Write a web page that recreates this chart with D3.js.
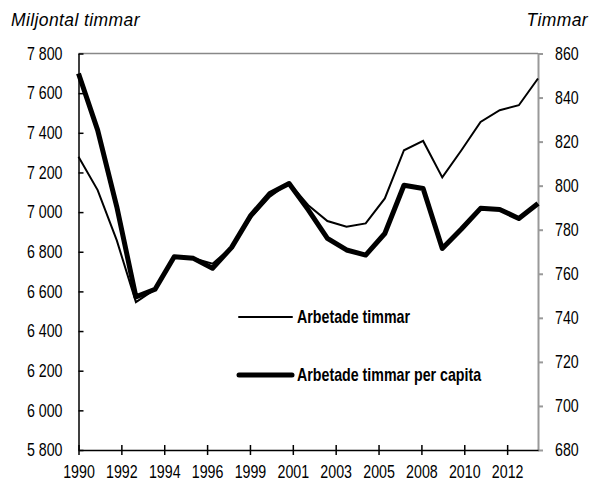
<!DOCTYPE html>
<html>
<head>
<meta charset="utf-8">
<script src="https://cdn.jsdelivr.net/npm/d3@7"></script>
<style>
  body { margin: 0; background: #fff; }
  .tick text { font-family: "Liberation Sans", Arial, sans-serif; font-size: 18px; fill: #000; }
  .unit { font-family: "Liberation Sans", Arial, sans-serif; font-style: italic; font-size: 17.5px; letter-spacing: 0.4px; }
  .legend text { font-family: "Liberation Sans", Arial, sans-serif; font-weight: bold; font-size: 18px; }
</style>
</head>
<body>
<div id="chart"></div>
<script>
// yearly observations
const years = d3.range(1990, 2015);
// Arbetade timmar, miljontal (left axis)
const hoursTotal = [7279, 7111, 6857, 6546, 6610, 6775, 6767, 6740, 6823, 6972,
                    7078, 7148, 7035, 6955, 6926, 6943, 7069, 7312, 7359, 7175,
                    7312, 7455, 7514, 7539, 7674];
// Arbetade timmar per capita (right axis)
const hoursPerCapita = [850.9, 825.2, 790.4, 749.5, 753, 767.7, 767, 762.5, 772, 786.5,
                        796.5, 801, 789, 776.1, 770.8, 768.5, 778.3, 800.2, 798.7, 771.5,
                        780.3, 789.7, 789.2, 785.1, 791.9];
const xTickLabels = ["1990", "1992", "1994", "1996", "1999", "2001", "2003", "2005", "2008", "2010", "2012"];
const leftTicks = d3.range(5800, 7801, 200);
const rightTicks = d3.range(680, 861, 20);

const W = 591, H = 481;
const margin = {top: 53.5, left: 78.5, right: 53, bottom: 31};
const squeeze = 0.79; // condensed look for the axis and legend font

const svg = d3.select("#chart").append("svg")
    .attr("width", W)
    .attr("height", H);

const x = d3.scaleLinear().domain([1990, 2014]).range([margin.left, W - margin.right]);
const yL = d3.scaleLinear().domain([5800, 7800]).range([H - margin.bottom, margin.top]);
const yR = d3.scaleLinear().domain([680, 860]).range([H - margin.bottom, margin.top]);

const fmt = d => d3.format(",")(d).replace(",", " ");

function condense(sel) {
  sel.each(function() {
    const t = d3.select(this);
    const tx = +t.attr("x") || 0;
    t.attr("x", tx / squeeze).attr("transform", `scale(${squeeze},1)`);
  });
}

// top border
svg.append("line")
    .attr("x1", margin.left).attr("x2", W - margin.right)
    .attr("y1", margin.top).attr("y2", margin.top)
    .attr("stroke", "#888").attr("stroke-width", 1.5);

// left axis, ticks point inwards
const gL = svg.append("g")
    .attr("transform", `translate(${margin.left},0)`)
    .call(d3.axisLeft(yL).tickValues(leftTicks).tickFormat(fmt).tickSize(-5).tickSizeOuter(0).tickPadding(16));
gL.selectAll("path, line").attr("stroke", "#000").attr("stroke-width", 1.5);
gL.selectAll("text").call(condense);

// right axis (gray)
const gR = svg.append("g")
    .attr("transform", `translate(${W - margin.right},0)`)
    .call(d3.axisRight(yR).tickValues(rightTicks).tickSize(5).tickSizeOuter(0).tickPadding(12));
gR.selectAll("path, line").attr("stroke", "#999").attr("stroke-width", 2);
gR.selectAll("text").call(condense);

// bottom axis, ticks cross the line
const tickStep = 24 / 10.72;
const gB = svg.append("g")
    .attr("transform", `translate(0,${H - margin.bottom})`)
    .call(d3.axisBottom(x)
        .tickValues(xTickLabels.map((d, i) => 1990 + i * tickStep))
        .tickFormat((d, i) => xTickLabels[i])
        .tickSize(5).tickSizeOuter(0).tickPadding(10));
gB.selectAll("line").attr("y1", -5);
gB.selectAll("path, line").attr("stroke", "#000").attr("stroke-width", 1.5);
gB.selectAll("text").call(condense);

// unit labels
svg.append("text").attr("class", "unit").attr("x", 11).attr("y", 26).text("Miljontal timmar");
svg.append("text").attr("class", "unit").attr("x", 588).attr("y", 26)
    .attr("text-anchor", "end").text("Timmar");

// lines
const lineR = d3.line().x((d, i) => x(years[i])).y(d => yR(d));
const lineL = d3.line().x((d, i) => x(years[i])).y(d => yL(d));

svg.append("path")
    .datum(hoursPerCapita)
    .attr("d", lineR)
    .attr("fill", "none").attr("stroke", "#000").attr("stroke-width", 5)
    .attr("stroke-linejoin", "round");

svg.append("path")
    .datum(hoursTotal)
    .attr("d", lineL)
    .attr("fill", "none").attr("stroke", "#000").attr("stroke-width", 2);

// legend
const legendItems = [
  {label: "Arbetade timmar", width: 2, y: 317},
  {label: "Arbetade timmar per capita", width: 5, y: 375}
];
const lg = svg.append("g").attr("class", "legend");
legendItems.forEach(d => {
  lg.append("line")
    .attr("x1", 239).attr("x2", 292).attr("y1", d.y).attr("y2", d.y)
    .attr("stroke", "#000").attr("stroke-width", d.width).attr("stroke-linecap", "round");
  lg.append("text").attr("x", 297).attr("y", d.y + 6.5).text(d.label).call(condense);
});
</script>
</body>
</html>
